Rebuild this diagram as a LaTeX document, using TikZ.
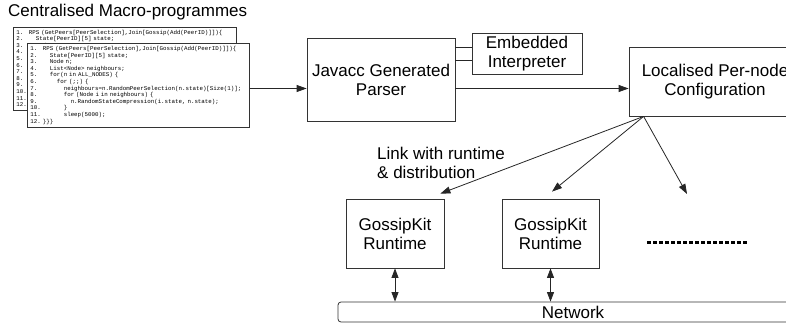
\documentclass[tikz,border=0pt]{standalone}
\usepackage{fontspec}
\setmainfont{Liberation Sans}
\setmonofont{Liberation Mono}
\usetikzlibrary{arrows.meta,positioning,calc}
\newlength{\cwd}
\newcommand{\lblfont}{\fontsize{17}{19}\selectfont}
\newcommand{\codefont}{\fontsize{5.8}{6.6}\selectfont\ttfamily\setlength{\cwd}{0.6em}}
\newcommand{\cln}[3]{\mbox{\makebox[3.6\cwd][l]{#1}\hspace*{#2\cwd}#3}}
\newcommand{\gossipcode}{%
  \cln{1.}{0}{RPS (GetPeers[PeerSelection],Join[Gossip(Add(PeerID)]])\{}\\
  \cln{2.}{2}{State[PeerID][5] state;}\\
  \cln{3.}{2}{Node n;}\\
  \cln{4.}{2}{List<Node> neighbours;}\\
  \cln{5.}{2}{for(n in ALL\_NODES) \{}\\
  \cln{6.}{4}{for (;;) \{}\\
  \cln{7.}{6}{neighbours=n.RandomPeerSelection(n.state)[Size(1)];}\\
  \cln{8.}{6}{for (Node i in neighbours) \{}\\
  \cln{9.}{8}{n.RandomStateCompression(i.state, n.state);}\\
  \cln{10.}{6}{\}}\\
  \cln{11.}{6}{sleep(5000);}\\
  \cln{12.}{0}{\}\}\}}}
\tikzset{
  box/.style     ={rectangle, draw=black!80, line width=0.8pt, fill=white,
                   align=center, font=\lblfont, inner sep=0pt},
  codebox/.style ={rectangle, draw=black!80, line width=0.8pt, fill=white,
                   anchor=north west, align=left, font=\codefont,
                   inner xsep=3pt, inner ysep=0pt},
  ln/.style      ={line width=0.8pt, draw=black!85},
  arr/.style     ={ln, -{Triangle[length=10pt,width=7pt]}},
  biarr/.style   ={ln, {Triangle[length=9.5pt,width=7pt]}-{Triangle[length=9.5pt,width=7pt]}},
  dotline/.style ={line width=3pt, dash pattern=on 3.5pt off 2.5pt},
  lbl/.style     ={font=\lblfont, align=left, inner sep=0pt},
}

\begin{document}
\begin{tikzpicture}[x=1pt, y=-1pt]
  \path[use as bounding box, clip] (0,0) rectangle (786,323);
  % source programmes
  \node[lbl, anchor=base west] (title) at (8,17) {Centralised Macro-programmes};
  \node[codebox, text width=217pt, minimum height=83pt] (codeback) at (13,27) {\gossipcode};
  \node[codebox, text width=216pt, minimum height=84pt] (code) at (27,43) {\gossipcode};
  % compile chain
  \node[box, minimum width=148pt, minimum height=83pt] (parser) at (381,79.5)
       {Javacc Generated\\Parser};
  \node[box, minimum width=110pt, minimum height=41pt] (interp) at (527,53.5)
       {Embedded\\Interpreter};
  \node[box, minimum width=172pt, minimum height=69pt] (local) at (715,81.5)
       {Localised Per-node\\Configuration};
  \coordinate (row) at (0,88.5);
  \draw[arr] (code.east |- row) -- (parser.west |- row);
  \draw[arr] (parser.east |- row) -- (local.west |- row);
  \foreach \dy in {-6.5,6.5}
    \draw[ln] ($(interp.west)+(0,\dy)$) coordinate (t) -- (parser.east |- t);
  % runtimes
  \node[box, minimum width=98pt, minimum height=69pt] (rt1) at (395,233.5)
       {GossipKit\\Runtime};
  \node[box, minimum width=97pt, minimum height=69pt] (rt2) at (550.5,233.5)
       {GossipKit\\Runtime};
  \node[box, rounded corners=3pt, minimum width=470pt, minimum height=20pt] (net) at (573,312)
       {Network};
  \coordinate (fan) at ([xshift=15pt]local.south west);
  \coordinate (more) at (687,194);
  \draw[arr] (fan) -- ([shift={(-4,-5)}]rt1.north east);
  \draw[arr] (fan) -- ([shift={(1.5,-7)}]rt2.north);
  \draw[arr] (fan) -- (more);
  \node[lbl, anchor=north west] (linklbl) at (377,147) {Link with runtime\\\& distribution};
  \coordinate (dotsL) at (647,242);
  \coordinate (dotsR) at (748,242);
  \draw[dotline] (dotsL) -- (dotsR);
  \draw[biarr] (rt1.south) -- (rt1.south |- net.north);
  \draw[biarr] (rt2.south) -- (rt2.south |- net.north);
\end{tikzpicture}
\end{document}
